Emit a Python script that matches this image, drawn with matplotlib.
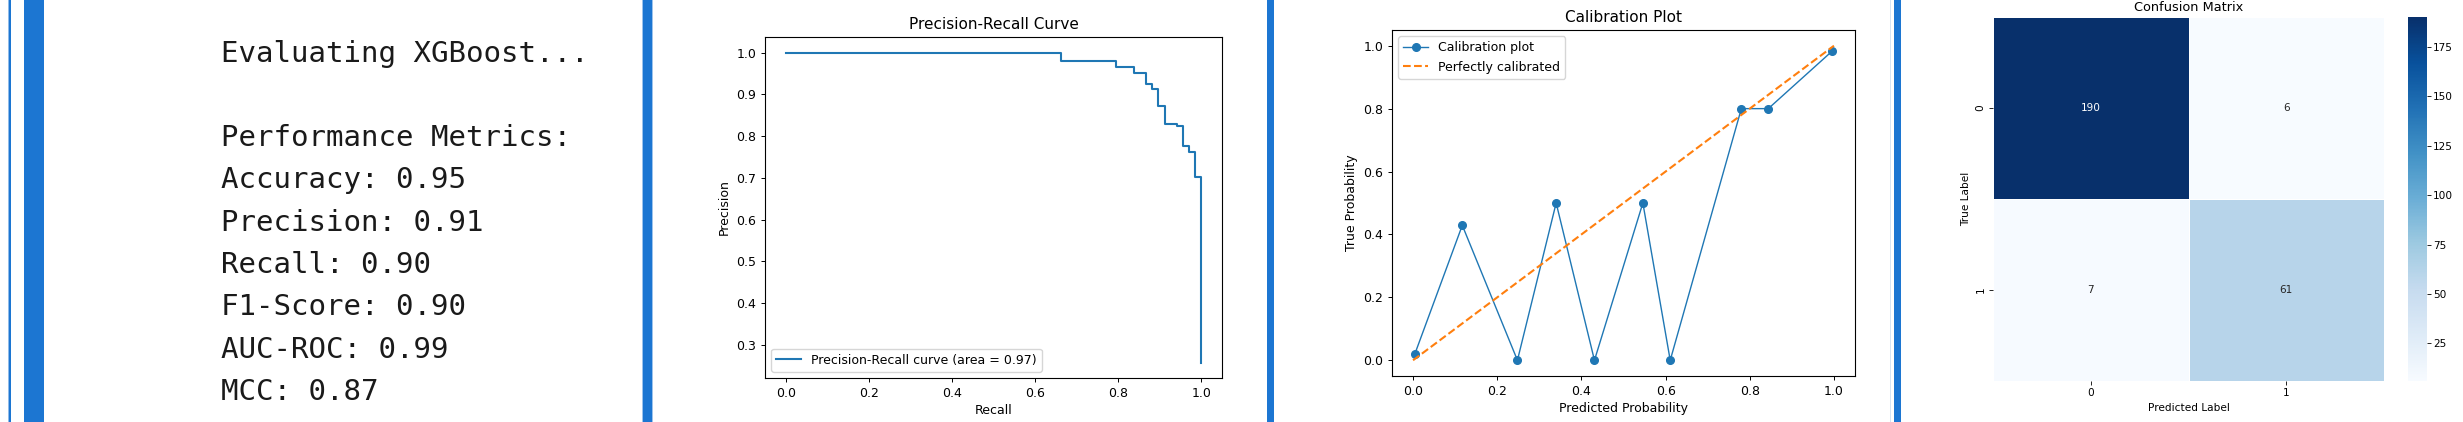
import numpy as np
import matplotlib
matplotlib.use("Agg")
import matplotlib.pyplot as plt
from matplotlib.patches import Rectangle
import seaborn as sns

# ---------------- data ----------------
model_name = "XGBoost"
metric_names = ["Accuracy", "Precision", "Recall", "F1-Score", "AUC-ROC", "MCC"]
metric_values = [0.95, 0.91, 0.90, 0.90, 0.99, 0.87]

pr_recall = [0.0, 0.662, 0.794, 0.838, 0.868, 0.882, 0.897, 0.912, 0.941, 0.956, 0.971, 0.985, 1.0]
pr_precision = [1.0, 0.980, 0.966, 0.952, 0.924, 0.912, 0.873, 0.829, 0.824, 0.777, 0.761, 0.701, 0.258]
pr_area = 0.97

cal_pred = [0.004, 0.117, 0.248, 0.340, 0.431, 0.546, 0.611, 0.780, 0.844, 0.995]
cal_true = [0.019, 0.429, 0.0, 0.5, 0.0, 0.5, 0.0, 0.8, 0.8, 0.982]

cm_values = [[190, 6], [7, 61]]
class_labels = ["0", "1"]

# ---------------- figure ----------------
W, H = 2463, 422
fig = plt.figure(figsize=(W / 100, H / 100), dpi=100)
fig.patch.set_facecolor("white")


def px_axes(l, t, r, b):
    return fig.add_axes([l / W, 1 - b / H, (r - l) / W, (b - t) / H])


def px_rect(l, r, color, t=0, b=H):
    fig.add_artist(Rectangle((l / W, 1 - b / H), (r - l) / W, (b - t) / H,
                             transform=fig.transFigure, facecolor=color,
                             edgecolor="none", zorder=10))


BLUE = "#1C76D2"
px_rect(7.5, 8.6, "#8fbbe9")
px_rect(8.6, 11, BLUE)
px_rect(24, 44, BLUE)
px_rect(642, 643, "#9cc3ec")
px_rect(643, 652, BLUE)
px_rect(652, 653, "#9cc3ec")
px_rect(1267, 1274, BLUE)
px_rect(1890, 1891, "#d6e4f4")
px_rect(1894, 1901, BLUE)

# ---------------- panel 1: text output ----------------
lines = [f"Evaluating {model_name}...", "", "Performance Metrics:"]
lines += [f"{n}: {v:.2f}" for n, v in zip(metric_names, metric_values)]
y0, dy = 61.5, 42.3
for i, s in enumerate(lines):
    if s:
        fig.text(221 / W, 1 - (y0 + i * dy) / H, s, family="DejaVu Sans Mono",
                 fontsize=21, color="#1a1a1a", va="baseline", ha="left")

# ---------------- panel 2: precision-recall ----------------
TICK = 9
ax2 = px_axes(765, 37, 1222, 378)
ax2.plot(pr_recall, pr_precision, drawstyle="steps-post", color="#1f77b4", lw=1.5,
         label=f"Precision-Recall curve (area = {pr_area:.2f})")
ax2.set_title("Precision-Recall Curve", fontsize=11, pad=5.5)
ax2.set_xlabel("Recall", fontsize=TICK, labelpad=3)
ax2.set_ylabel("Precision", fontsize=TICK, labelpad=4)
ax2.tick_params(labelsize=TICK, length=3.2, width=0.7, pad=3)
ax2.legend(loc="lower left", fontsize=TICK)

# ---------------- panel 3: calibration ----------------
ax3 = px_axes(1392, 30, 1855, 376)
ax3.plot(cal_pred, cal_true, marker="o", color="#1f77b4", lw=1.0, markersize=5.5,
         label="Calibration plot")
ax3.plot([0, 1], [0, 1], "--", color="#ff7f0e", lw=1.5, label="Perfectly calibrated")
ax3.set_title("Calibration Plot", fontsize=11, pad=5.5)
ax3.set_xlabel("Predicted Probability", fontsize=TICK, labelpad=3)
ax3.set_ylabel("True Probability", fontsize=TICK, labelpad=4)
ax3.tick_params(labelsize=TICK, length=3.2, width=0.7, pad=3)
ax3.legend(loc="upper left", fontsize=TICK)

# ---------------- panel 4: confusion matrix ----------------
SMALL = 7.6
ax4 = px_axes(1993, 17, 2384, 381)
cax = px_axes(2408, 17, 2426.5, 381)
sns.heatmap(np.array(cm_values), annot=True, fmt="d", cmap="Blues", ax=ax4, cbar_ax=cax,
            linewidths=0.5, linecolor="white", annot_kws={"size": SMALL},
            xticklabels=class_labels, yticklabels=class_labels)
ax4.set_title("Confusion Matrix", fontsize=9.3, pad=4)
ax4.set_xlabel("Predicted Label", fontsize=SMALL, labelpad=3)
ax4.set_ylabel("True Label", fontsize=SMALL, labelpad=3)
ax4.tick_params(labelsize=SMALL, length=2.8, width=0.6, pad=2.5)
plt.setp(ax4.get_yticklabels(), rotation=90, va="center")
cax.tick_params(labelsize=SMALL, length=2.8, width=0.6, pad=2)

fig.savefig("out.png", dpi=100)
